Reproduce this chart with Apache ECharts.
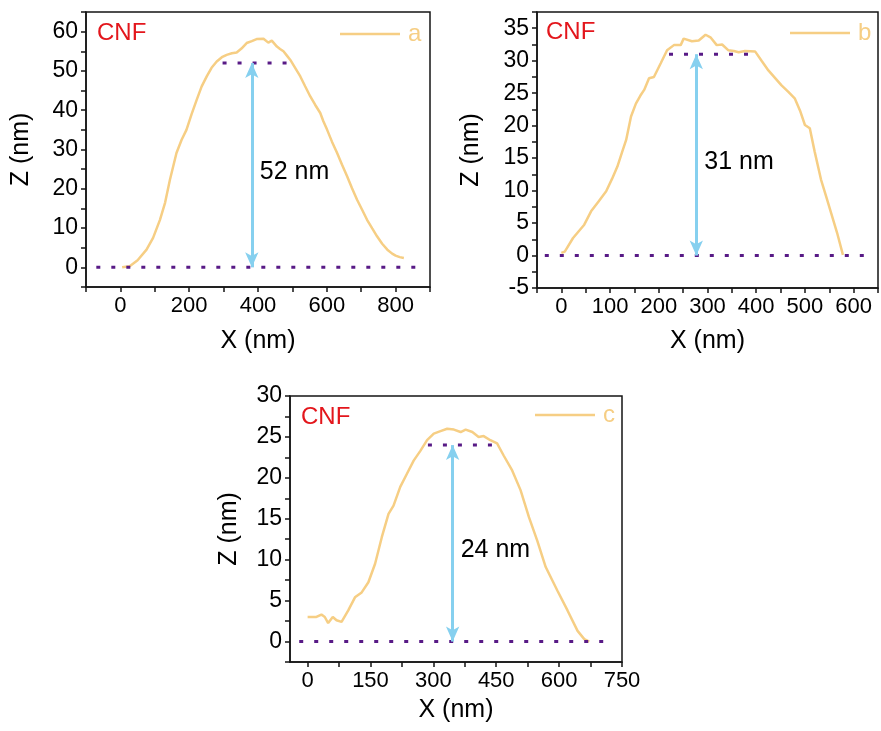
<!DOCTYPE html>
<html>
<head>
<meta charset="utf-8">
<script src="https://cdn.jsdelivr.net/npm/echarts@6/dist/echarts.min.js"></script>
<style>
  html, body { margin: 0; padding: 0; background: #ffffff; }
  #chart { width: 881px; height: 731px; }
</style>
</head>
<body>
<div id="chart"></div>
<script>
// AFM height profiles across three cellulose nanofibres (CNF)

// Profile a
const xA = [5, 27, 50, 76, 95, 115, 130, 144, 163, 178, 192, 207, 222, 236, 251, 265, 280, 295, 309, 324, 338, 352, 367, 382, 396, 416, 430, 440, 455, 464, 474, 484, 494, 508, 523, 537, 552, 566, 581, 590, 601, 615, 630, 644, 659, 673, 688, 703, 717, 732, 746, 761, 776, 790, 800, 812, 824];
const zA = [0, 0.3, 1.8, 4.5, 7.5, 12.1, 16.5, 22.3, 29.1, 32.5, 35, 39, 42.7, 46, 48.6, 50.8, 52.4, 53.5, 54.1, 54.5, 54.7, 55.7, 57.1, 57.6, 58.1, 58.2, 57.2, 57.7, 56.2, 55.6, 55, 53.9, 52.8, 50.8, 48.6, 46.1, 43.5, 41.4, 39.3, 37.2, 35, 32, 29.1, 26.2, 23.2, 20.2, 17.2, 14.6, 12.1, 9.9, 7.9, 6, 4.5, 3.5, 3, 2.6, 2.4];

// Profile b
const xB = [0, 7, 24, 47, 61, 76, 92, 104, 115, 125, 133, 143, 153, 162, 170, 180, 190, 204, 217, 231, 245, 251, 268, 282, 296, 306, 319, 330, 343, 354, 364, 377, 398, 411, 425, 438, 452, 466, 479, 490, 500, 510, 520, 533, 544, 554, 566, 578];
const zB = [0.4, 0.6, 2.7, 4.75, 6.8, 8.3, 9.9, 11.8, 13.7, 16, 17.8, 21.4, 23.4, 24.6, 25.5, 27.3, 27.5, 29.6, 31.6, 32.4, 32.4, 33.4, 33, 33.1, 34, 33.6, 32.4, 32.5, 31.6, 31.5, 31.3, 31.5, 31.4, 30, 28.5, 27.4, 26.2, 25.2, 24.2, 22.3, 20.1, 19.6, 16, 11.7, 9, 6.5, 3.5, 0.1];

// Profile c
const xC = [0, 21, 33, 41, 49, 60, 69, 81, 97, 113, 129, 145, 161, 177, 193, 205, 221, 237, 253, 269, 285, 301, 317, 333, 349, 365, 377, 393, 408, 420, 436, 452, 468, 488, 508, 528, 548, 568, 596, 620, 644, 660, 672];
const zC = [3.0, 3.0, 3.3, 3.0, 2.25, 3.0, 2.6, 2.4, 3.8, 5.4, 6.0, 7.25, 9.5, 12.75, 15.6, 16.6, 18.9, 20.5, 22.1, 23.3, 24.6, 25.4, 25.7, 26.0, 25.9, 25.6, 25.9, 25.6, 25.0, 25.1, 24.6, 24.2, 22.7, 20.9, 18.5, 15.2, 12.3, 9.1, 6.2, 3.8, 1.3, 0.3, 0];

// Measured fibre heights (nm), where the arrow is drawn and the dotted reference lines
const heights = [52, 31, 24];
const arrowX = [382, 277, 346];
const topLineX = [[297, 486], [221, 387], [287, 440]];
const baseLineX = [[-70, 875], [-34, 628], [-20, 725]];
const names = ['a', 'b', 'c'];

// Axis ranges and tick labels
const xRange = [[-100, 900], [-50, 650], [-42, 750]];
const yRange = [[-5, 65], [-5, 37.5], [-2.5, 30]];
const xTickStep = [100, 50, 75];
const xLabelStep = [200, 100, 150];
const yTickStep = [5, 2.5, 2.5];
const yLabelStep = [10, 5, 5];
const xLabelRange = [[0, 800], [0, 600], [0, 750]];
const yLabelRange = [[0, 60], [-5, 35], [0, 30]];

const FONT = "'Liberation Sans', Arial, Helvetica, sans-serif";
const LINE_COLOR = '#F6CE84';
const DOT_COLOR = '#581A86';
const ARROW_COLOR = '#86D0EF';
const INK = '#000000';
const CNF_RED = '#E3161C';

const grids = [
  { left: 86, top: 12, width: 344, height: 275 },
  { left: 537, top: 12, width: 342, height: 276 },
  { left: 290, top: 396, width: 332, height: 266 }
];
const legendPos = [
  { left: 335, top: 17 },
  { left: 785, top: 16 },
  { left: 530, top: 398 }
];
const cnfPos = [
  { left: 97, top: 21 },
  { left: 546, top: 20 },
  { left: 301, top: 405 }
];
const xTickFont = [22, 22, 22];
const yTickFont = [23, 23, 23];
const xNameGap = [42, 41, 36];
const yNameGap = [52, 53, 48];

function zip(xs, ys) { return xs.map((x, i) => [x, ys[i]]); }
function isMultiple(v, step) {
  const r = v / step;
  return Math.abs(r - Math.round(r)) < 1e-6;
}
function range(a, b, step) {
  const out = [];
  for (let v = a; v <= b + 1e-9; v += step) out.push(+v.toFixed(6));
  return out;
}

const profiles = [zip(xA, zA), zip(xB, zB), zip(xC, zC)];
const axisLineStyle = { color: '#151515', width: 1.5 };

const xAxes = [], yAxes = [], series = [], legends = [], graphics = [];

for (let i = 0; i < 3; i++) {
  const xa = {
    gridIndex: i, type: 'value', min: xRange[i][0], max: xRange[i][1],
    axisLine: { show: true, onZero: false, lineStyle: axisLineStyle },
    axisTick: { show: true, length: 5, lineStyle: axisLineStyle },
    axisLabel: { fontSize: xTickFont[i], color: INK, fontFamily: FONT, margin: 8 },
    splitLine: { show: false },
    name: 'X (nm)', nameLocation: 'middle', nameGap: xNameGap[i],
    nameTextStyle: { fontSize: 25, color: INK, fontFamily: FONT }
  };
  if (i === 2) {
    // ticks every 75 nm, labels every 150 nm
    xa.axisTick.customValues = range(0, 750, xTickStep[i]);
    xa.axisLabel.customValues = range(0, 750, xLabelStep[i]);
  } else {
    xa.interval = xTickStep[i];
    xa.axisLabel.formatter = (v) =>
      (isMultiple(v, xLabelStep[i]) && v >= xLabelRange[i][0] && v <= xLabelRange[i][1]) ? String(v) : '';
  }
  xAxes.push(xa);

  yAxes.push({
    gridIndex: i, type: 'value', min: yRange[i][0], max: yRange[i][1], interval: yTickStep[i],
    axisLine: { show: true, onZero: false, lineStyle: axisLineStyle },
    axisTick: { show: true, length: 5, lineStyle: axisLineStyle },
    axisLabel: {
      fontSize: yTickFont[i], color: INK, fontFamily: FONT, margin: 8,
      formatter: (v) =>
        (isMultiple(v, yLabelStep[i]) && v >= yLabelRange[i][0] && v <= yLabelRange[i][1]) ? String(v) : ''
    },
    splitLine: { show: false },
    name: 'Z (nm)', nameLocation: 'middle', nameGap: yNameGap[i],
    nameTextStyle: { fontSize: 25, color: INK, fontFamily: FONT }
  });

  // baseline (Z = 0) and plateau reference, dotted
  const dotted = { color: DOT_COLOR, width: 3, type: [4, 11] };
  series.push({
    type: 'line', xAxisIndex: i, yAxisIndex: i, silent: true, symbol: 'none',
    data: [[baseLineX[i][0], 0], [baseLineX[i][1], 0]], lineStyle: dotted, z: 3
  });
  series.push({
    type: 'line', xAxisIndex: i, yAxisIndex: i, silent: true, symbol: 'none',
    data: [[topLineX[i][0], heights[i]], [topLineX[i][1], heights[i]]], lineStyle: dotted, z: 3
  });

  // height profile
  series.push({
    name: names[i], type: 'line', xAxisIndex: i, yAxisIndex: i, symbol: 'none',
    data: profiles[i], color: LINE_COLOR,
    itemStyle: { color: LINE_COLOR },
    lineStyle: { color: LINE_COLOR, width: 2.5 }, z: 2
  });

  // double-headed arrow spanning the fibre height
  series.push({
    type: 'line', xAxisIndex: i, yAxisIndex: i, data: [], silent: true,
    markLine: {
      silent: true, symbol: ['arrow', 'arrow'], symbolSize: [10, 15],
      label: { show: false },
      lineStyle: { color: ARROW_COLOR, width: 3, type: 'solid' },
      emphasis: { disabled: true },
      data: [[{ coord: [arrowX[i], 0] }, { coord: [arrowX[i], heights[i]] }]]
    },
    z: 4
  });

  // height annotation next to the arrow
  series.push({
    type: 'scatter', xAxisIndex: i, yAxisIndex: i, silent: true,
    symbolSize: 0, data: [[arrowX[i], heights[i] / 2]],
    label: {
      show: true, position: 'right', distance: 8, offset: [0, 7],
      formatter: heights[i] + ' nm', fontSize: 25, color: INK, fontFamily: FONT,
      textBorderWidth: 0, opacity: 1
    },
    itemStyle: { opacity: 1 }
  });

  legends.push({
    data: [names[i]], left: legendPos[i].left, top: legendPos[i].top,
    icon: 'rect', itemWidth: 60, itemHeight: 2.5, selectedMode: false,
    textStyle: { color: LINE_COLOR, fontSize: 24, fontFamily: FONT, padding: [0, 0, 0, 3] }
  });

  graphics.push({
    type: 'text', left: cnfPos[i].left, top: cnfPos[i].top, silent: true,
    style: { text: 'CNF', fill: CNF_RED, font: '24px ' + FONT }
  });
}

const chart = echarts.init(document.getElementById('chart'), null, { renderer: 'canvas' });
chart.setOption({
  backgroundColor: '#ffffff',
  animation: false,
  textStyle: { fontFamily: FONT },
  grid: grids.map(g => Object.assign({ show: true, borderColor: '#151515', borderWidth: 1.5, backgroundColor: 'transparent' }, g)),
  xAxis: xAxes,
  yAxis: yAxes,
  legend: legends,
  series: series,
  graphic: graphics
});
</script>
</body>
</html>
